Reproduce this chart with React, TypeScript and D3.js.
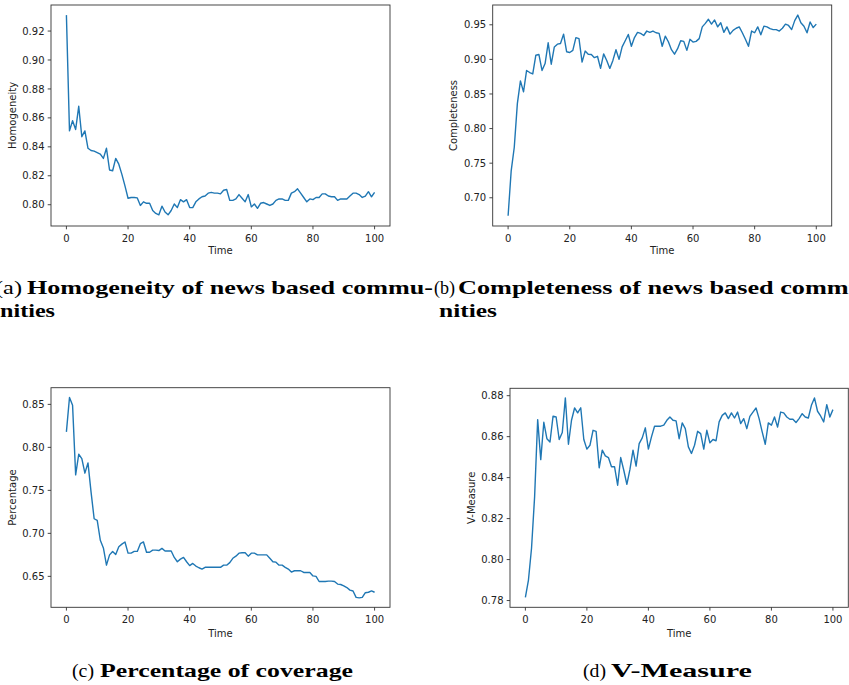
import React from "react";
import * as d3 from "d3";

// ---- Data, one value per time step 0..100 ----
const homogeneity = [
  0.931, 0.851, 0.858, 0.852, 0.868, 0.847, 0.851, 0.839, 0.8375, 0.837,
  0.836, 0.835, 0.832, 0.839, 0.824, 0.8235, 0.832, 0.828, 0.821, 0.813,
  0.8045, 0.805, 0.805, 0.8047, 0.7995, 0.802, 0.801, 0.801, 0.796, 0.794,
  0.793, 0.799, 0.795, 0.793, 0.796, 0.8005, 0.798, 0.8035, 0.802, 0.8035,
  0.798, 0.798, 0.802, 0.804, 0.8055, 0.806, 0.808, 0.8085, 0.808, 0.808,
  0.8075, 0.81, 0.8105, 0.803, 0.803, 0.804, 0.807, 0.8045, 0.802, 0.807,
  0.7985, 0.8005, 0.7975, 0.801, 0.8015, 0.8005, 0.7995, 0.8005, 0.803, 0.804,
  0.804, 0.803, 0.803, 0.808, 0.809, 0.811, 0.808, 0.805, 0.802, 0.804,
  0.8035, 0.805, 0.805, 0.8075, 0.8075, 0.806, 0.8055, 0.8055, 0.803, 0.804,
  0.804, 0.804, 0.806, 0.808, 0.808, 0.807, 0.805, 0.806, 0.809, 0.8055,
  0.8085,
];

const completeness = [
  0.674, 0.739, 0.773, 0.836, 0.869, 0.853, 0.884, 0.881, 0.879, 0.906,
  0.907, 0.884, 0.894, 0.924, 0.893, 0.918, 0.922, 0.923, 0.9365, 0.911,
  0.91, 0.913, 0.9315, 0.93, 0.896, 0.912, 0.9075, 0.907, 0.9025, 0.9045,
  0.887, 0.908, 0.8985, 0.887, 0.8985, 0.914, 0.9, 0.918, 0.927, 0.936,
  0.919, 0.9315, 0.939, 0.9375, 0.9345, 0.941, 0.939, 0.941, 0.9385, 0.9375,
  0.919, 0.9335, 0.9255, 0.914, 0.9075, 0.9155, 0.927, 0.926, 0.913, 0.929,
  0.925, 0.926, 0.93, 0.947, 0.952, 0.958, 0.951, 0.957, 0.947, 0.953,
  0.939, 0.947, 0.9365, 0.942, 0.945, 0.947, 0.9385, 0.929, 0.919, 0.941,
  0.9385, 0.947, 0.9355, 0.948, 0.947, 0.9445, 0.943, 0.943, 0.941, 0.945,
  0.951, 0.949, 0.943, 0.956, 0.964, 0.953, 0.948, 0.9385, 0.954, 0.946,
  0.951,
];

const coverage = [
  0.818, 0.858, 0.849, 0.768, 0.792, 0.787, 0.77, 0.782, 0.748, 0.717,
  0.715, 0.692, 0.683, 0.663, 0.675, 0.679, 0.6755, 0.6845, 0.6875, 0.69,
  0.677, 0.677, 0.679, 0.679, 0.688, 0.69, 0.678, 0.678, 0.6805, 0.6805,
  0.68, 0.6825, 0.6795, 0.6795, 0.6795, 0.672, 0.667, 0.67, 0.672, 0.667,
  0.6625, 0.665, 0.662, 0.66, 0.6585, 0.6605, 0.6605, 0.6605, 0.6605, 0.6605,
  0.6605, 0.663, 0.663, 0.666, 0.671, 0.6735, 0.677, 0.6775, 0.6775, 0.6735,
  0.677, 0.677, 0.675, 0.675, 0.675, 0.675, 0.671, 0.667, 0.6665, 0.663,
  0.663, 0.6605, 0.6585, 0.655, 0.6565, 0.6565, 0.6565, 0.6545, 0.6545, 0.6545,
  0.6505, 0.65, 0.644, 0.644, 0.644, 0.6445, 0.6445, 0.644, 0.641, 0.6405,
  0.639, 0.637, 0.634, 0.633, 0.6255, 0.625, 0.6255, 0.631, 0.6315, 0.633,
  0.6315,
];

const vMeasure = [
  0.7815, 0.79, 0.8055, 0.8306, 0.8683, 0.8488, 0.867, 0.859, 0.8574, 0.87,
  0.8696, 0.8586, 0.862, 0.8789, 0.8563, 0.868, 0.874, 0.8716, 0.8741, 0.8586,
  0.8539, 0.8558, 0.8631, 0.8626, 0.8448, 0.8534, 0.8506, 0.8498, 0.8453, 0.8453,
  0.8363, 0.8498, 0.8436, 0.8367, 0.844, 0.8534, 0.8456, 0.8566, 0.8594, 0.8643,
  0.8539, 0.8599, 0.8651, 0.8651, 0.8651, 0.8656, 0.868, 0.8696, 0.868, 0.8677,
  0.859, 0.8667, 0.8639, 0.855, 0.8518, 0.8558, 0.8626, 0.8615, 0.8539, 0.8631,
  0.857, 0.8586, 0.858, 0.8672, 0.8704, 0.8716, 0.8688, 0.8716, 0.8691, 0.872,
  0.8664, 0.8688, 0.8639, 0.8699, 0.872, 0.874, 0.8688, 0.8623, 0.8563, 0.8667,
  0.8656, 0.8696, 0.8647, 0.872, 0.8716, 0.8696, 0.8685, 0.8685, 0.8669, 0.8688,
  0.8712, 0.8696, 0.8691, 0.8753, 0.8789, 0.8724, 0.8701, 0.8672, 0.8756, 0.8696,
  0.8732,
];

const xTicks = [0, 20, 40, 60, 80, 100];
const homogeneityTicks = [0.8, 0.82, 0.84, 0.86, 0.88, 0.9, 0.92];
const completenessTicks = [0.7, 0.75, 0.8, 0.85, 0.9, 0.95];
const coverageTicks = [0.65, 0.7, 0.75, 0.8, 0.85];
const vMeasureTicks = [0.78, 0.8, 0.82, 0.84, 0.86, 0.88];

const LINE = "#1f77b4";
const SANS = "'DejaVu Sans', sans-serif";
const SERIF = "'Liberation Serif', 'Times New Roman', serif";
const CAP = 19;

type PanelProps = {
  values: number[];
  yTicks: number[];
  yDomain: [number, number];
  yLabel: string;
  left: number;
  right: number;
  top: number;
  bottom: number;
  yLabelX: number;
  xLabelY: number;
};

function Panel({ values, yTicks, yDomain, yLabel, left, right, top, bottom, yLabelX, xLabelY }: PanelProps) {
  const x = d3.scaleLinear().domain([-5, 105]).range([left, right]);
  const y = d3.scaleLinear().domain(yDomain).range([bottom, top]);
  const line = d3
    .line<number>()
    .x((_, i) => x(i))
    .y((d) => y(d));
  const fmt = d3.format(".2f");
  return (
    <g>
      <path d={line(values) ?? ""} fill="none" stroke={LINE} strokeWidth={1.4} strokeLinejoin="round" />
      <rect x={left} y={top} width={right - left} height={bottom - top} fill="none" stroke="#333" strokeWidth={0.9} />
      {xTicks.map((t) => (
        <g key={"x" + t}>
          <line x1={x(t)} x2={x(t)} y1={bottom} y2={bottom + 3.3} stroke="#333" strokeWidth={0.9} />
          <text x={x(t)} y={bottom + 15.5} textAnchor="middle" fontFamily={SANS} fontSize={10} fill="#222">
            {t}
          </text>
        </g>
      ))}
      {yTicks.map((t) => (
        <g key={"y" + t}>
          <line x1={left - 3.3} x2={left} y1={y(t)} y2={y(t)} stroke="#333" strokeWidth={0.9} />
          <text x={left - 6.5} y={y(t) + 3.6} textAnchor="end" fontFamily={SANS} fontSize={10} fill="#222">
            {fmt(t)}
          </text>
        </g>
      ))}
      <text x={(left + right) / 2} y={xLabelY} textAnchor="middle" fontFamily={SANS} fontSize={10} fill="#222">
        Time
      </text>
      <text
        transform={`translate(${yLabelX},${(top + bottom) / 2}) rotate(-90)`}
        y={3.6}
        textAnchor="middle"
        fontFamily={SANS}
        fontSize={10}
        fill="#222"
      >
        {yLabel}
      </text>
    </g>
  );
}

function Caption({ tag, x, y, tagWidth, body, bodyX, bodyWidth }: { tag: string; x: number; y: number; tagWidth: number; body: string; bodyX: number; bodyWidth: number }) {
  return (
    <g>
      <text x={x} y={y} fontFamily={SERIF} fontSize={CAP} fill="#000" textLength={tagWidth} lengthAdjust="spacingAndGlyphs">
        {tag}
      </text>
      <text x={bodyX} y={y} fontFamily={SERIF} fontWeight="bold" fontSize={CAP} fill="#000" textLength={bodyWidth} lengthAdjust="spacingAndGlyphs">
        {body}
      </text>
    </g>
  );
}

export default function App() {
  return (
    <div style={{ position: "absolute", left: 0, top: 0 }}>
      <svg width={849} height={685} viewBox="0 0 849 685" style={{ display: "block", background: "#fff" }}>
        <rect width={849} height={685} fill="#fff" />
        <Panel values={homogeneity} yTicks={homogeneityTicks} yDomain={[0.7853, 0.938]} yLabel="Homogeneity"
          left={51} right={390} top={5} bottom={226} yLabelX={12} xLabelY={254} />
        <Panel values={completeness} yTicks={completenessTicks} yDomain={[0.6592, 0.9786]} yLabel="Completeness"
          left={492.7} right={831.7} top={5} bottom={226} yLabelX={453} xLabelY={254} />
        <Panel values={coverage} yTicks={coverageTicks} yDomain={[0.614, 0.8694]} yLabel="Percentage"
          left={51} right={390} top={387.7} bottom={607.3} yLabelX={12} xLabelY={637} />
        <Panel values={vMeasure} yTicks={vMeasureTicks} yDomain={[0.7767, 0.8836]} yLabel="V-Measure"
          left={510} right={848.3} top={388.3} bottom={607.3} yLabelX={471} xLabelY={637} />

        <Caption tag="(a)" x={-5} y={294} tagWidth={27} body="Homogeneity of news based commu-" bodyX={27} bodyWidth={406} />
        <text x={0} y={317} fontFamily={SERIF} fontWeight="bold" fontSize={CAP} textLength={55} lengthAdjust="spacingAndGlyphs">nities</text>
        <Caption tag="(b)" x={434} y={294} tagWidth={21} body="Completeness of news based commu-" bodyX={458} bodyWidth={414} />
        <text x={439} y={317} fontFamily={SERIF} fontWeight="bold" fontSize={CAP} textLength={58} lengthAdjust="spacingAndGlyphs">nities</text>
        <Caption tag="(c)" x={72} y={677} tagWidth={22} body="Percentage of coverage" bodyX={100} bodyWidth={253} />
        <Caption tag="(d)" x={583} y={677} tagWidth={23} body="V-Measure" bodyX={611} bodyWidth={141} />
      </svg>
    </div>
  );
}
